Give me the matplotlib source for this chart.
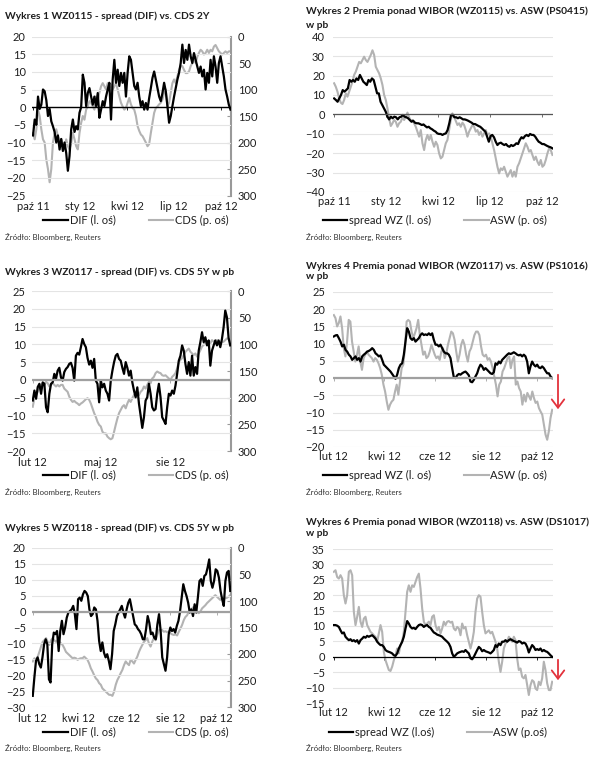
import matplotlib
matplotlib.use("Agg")
import matplotlib.pyplot as plt
import pandas as pd
from matplotlib.patches import FancyArrowPatch

plt.rcParams['font.family'] = ['Lato', 'DejaVu Sans']

W, H = 596, 762

# ---- Wykres 1: WZ0115 DIF (left) vs CDS 2Y (right, inverted) ----
dif1 = [-8, -3.5, -5, 3, -0.5, 0.7, 5, 4.5, 2, -2.5, -0.5, -4, -5.4, -7, -10, -8, -12, -9, -12.4, -10,
        -13, -18, -13.8, -6.3, -3.5, -7, -5.4, -6.3, -1.6, 0, 9.2, 6.9, 0.3, 4, 5.4, 3, 0.7, 3, 0.3, 4,
        -3, -0.7, 1.7, 0.3, 3, 5, 6.9, -3.5, 7.8, 13.4, 6.9, 10.6, 6, 9.7, 6.9, 9.7, 3, 9.7, 14.4, 13.4,
        9.7, 6, 5, 6.9, 3, 0.3, 1.7, -0.7, 1.2, -0.7, 2.6, 5.4, 8.3, 10.1, 7.8, 5.4, 3, 1.7, 4, 6.9,
        4.5, 0.3, -4.4, -2.5, 0.3, 3, 5.4, 7.8, 9.7, 12.5, 17.7, 12.5, 16.2, 13.4, 17.7, 14.4, 12.5, 15.3, 13.4, 11.5,
        9.7, 11.5, 8.7, 10.6, 5, 9.7, 6.9, 13.4, 8.7, 14.4, 11.5, 6.9, 12.5, 14.4, 11.5, 8.7, 5, 3, 0.7, -0.7]
cds1 = [182, 194, 175, 138, 150, 175, 194, 200, 232, 250, 275, 250, 200, 182, 175, 188, 200, 194, 207, 213,
        194, 207, 213, 200, 182, 194, 207, 213, 182, 163, 150, 157, 138, 132, 122, 125, 132, 138, 113, 119,
        106, 94, 88, 94, 100, 88, 97, 91, 100, 94, 88, 100, 113, 125, 132, 138, 135, 125, 116, 128,
        135, 138, 150, 169, 178, 185, 188, 194, 200, 207, 203, 182, 163, 144, 135, 132, 128, 125, 119, 106,
        100, 132, 125, 106, 88, 81, 88, 75, 63, 56, 56, 63, 69, 69, 66, 56, 50, 44, 50, 38,
        31, 25, 28, 34, 31, 25, 31, 25, 28, 19, 16, 22, 28, 31, 34, 31, 28, 31, 28, 28]

# ---- Wykres 2: WZ0115 spread vs ASW PS0415 ----
wz2 = [8.2, 7.4, 6.5, 8.2, 10, 12.5, 11.7, 12.5, 13.4, 17.7, 16.8, 17.7, 16.8, 18.5, 17.7, 20.3, 18.5, 16.8, 16, 15.1,
       17.7, 16.8, 18.5, 17.7, 14.2, 10.8, 10.8, 6.5, 4.8, 3.1, 1.4, -1.2, -2.6, -1.2, -2, -1.2, -1.5, -2.6, -1.5, -1.2,
       -0.3, -1.2, -1.5, -2, -2.9, -3.8, -3.3, -4.3, -4.6, -4.6, -5, -5.5, -5.2, -6, -6.7, -6.4, -7.2, -7.7, -8.4, -8.9,
       -9.8, -10.1, -10.1, -10.6, -10.1, -9.8, -8.1, -4.6, -0.3, -0.3, -1.5, -1.5, -2, -1.5, -2, -2.6, -2.6, -2.9, -3.3, -3.8,
       -4.3, -5, -5, -5.5, -6, -6.4, -7.2, -8.1, -8.9, -11.5, -14.1, -11.2, -10.6, -11.8, -14.1, -15.8, -14.9, -14.6, -15.3, -15.8,
       -15.3, -16.3, -16.7, -15.8, -16.3, -15.8, -14.9, -15.3, -13.2, -11.8, -12.4, -11.2, -10.6, -11.2, -10.1, -10.6, -10.6, -11.5, -12.9, -14.1,
       -14.6, -15.3, -15.3, -15.8, -16.3, -16.7, -17, -17.5]
asw2 = [16, 14.2, 11.7, 8.2, 6, 5.3, 7.4, 10.8, 9.1, 11.7, 14.2, 16.8, 20.3, 22, 24.5, 27, 26.3, 28, 29.7, 28,
        27, 28.8, 30.6, 33, 30.6, 24.5, 22.8, 21.1, 18.5, 15.1, 10, 7.4, 3.1, -2, -6, -4.6, -2.9, -3.8, -6.4, -4.6,
        -3.8, -1.5, -2.9, -1.2, 0.9, -1.5, -3.3, -2.9, -4.6, -6.4, -8.9, -11.5, -8.1, -14.9, -18.4, -13.2, -10.6, -13.2, -10.6, -14.1,
        -16.7, -14.1, -15.8, -20.1, -22.7, -21.8, -18.4, -14.9, -13.2, -8.1, -2.9, 0.5, -1.2, -3.3, -5.5, -4.6, -6.4, -4.3, -5.5, -8.1,
        -11.5, -8.9, -7.2, -5.5, -6.4, -8.9, -8.1, -10.6, -8.9, -11.5, -9.8, -8.1, -10.6, -9.8, -11.5, -14.9, -18.4, -22.7, -27, -30.4,
        -27.8, -28.7, -27, -29.5, -32.1, -30.4, -28.7, -32.1, -29.5, -32.1, -27, -25.2, -22.7, -20.1, -17.5, -14.9, -16.7, -19.2, -18.4, -20.9,
        -23.5, -21.8, -24.4, -26.1, -23.5, -27, -26.1, -23.5, -20.1, -17.5, -18.4, -20.9]

# ---- Wykres 3: WZ0117 DIF vs CDS 5Y ----
dif3 = [-5.8, -3, -5.3, -2, -1.1, -3.9, -0.7, -1.1, -7.7, -9.1, -3.9, -1.1, -0.7, 1.7, 0.3, 2.6, 3.4, 0.7, -0.2, 2.2,
        3.1, 3.6, 4.5, 4.8, 3.4, -0.2, 6.8, 7.6, 7.1, 9.2, 11.5, 10.1, 9.2, 6.2, 4.3, 5.4, 3.4, 5.9, -0.2, -1.1,
        -6.3, -0.2, -2.1, -1.1, -3, -3.9, -5.8, -0.2, 2.6, 5, 6.8, 7.3, 5.9, 5.4, 3.4, 1.7, 5, 3.4, 1.2, 2.6,
        -0.7, -3, -4.9, -2.1, -6.7, -10, -13.5, -10.5, -5.8, -4.9, -1.1, -3.9, -7.7, -8.6, -8.2, -3.9, -1.1, -4.9, -10.5, -11.4,
        -12.4, -7.7, -3.9, -4.4, -3, -3.9, -1.6, 1.7, 5.4, 6.8, 9.7, 8.2, 4.5, 1.7, 5, 1.2, 6.8, 1.2, 3.6, 1.7,
        8.2, 10.6, 13.4, 10.6, 12, 9.7, 11.1, 4, 8.2, 9.7, 11.1, 9.7, 11.1, 9.2, 11.5, 14.8, 19.5, 17.6, 11.8, 9.7]
cds3 = [217, 201, 195, 189, 179, 176, 173, 176, 170, 173, 179, 176, 173, 176, 179, 176, 179, 176, 176, 183,
        186, 189, 198, 204, 208, 206, 209, 211, 214, 211, 209, 206, 203, 201, 204, 211, 220, 229, 236, 245,
        251, 254, 264, 267, 267, 273, 276, 278, 276, 264, 251, 239, 229, 223, 217, 214, 220, 211, 204, 208,
        201, 195, 192, 189, 195, 189, 186, 179, 183, 176, 170, 173, 164, 161, 154, 151, 153, 154, 158, 159,
        158, 161, 164, 167, 161, 158, 154, 145, 133, 129, 126, 120, 114, 111, 108, 114, 117, 120, 117, 123,
        117, 111, 104, 101, 95, 98, 101, 98, 92, 95, 94, 92, 95, 98, 96, 95, 92, 89, 90, 92]

# ---- Wykres 4: WZ0117 spread vs ASW PS1016 ----
wz4 = [12.1, 12.4, 12.5, 11.6, 10.6, 9.2, 9.7, 8.2, 7.7, 6.8, 6.3, 5.3, 5.8, 6.3, 5.3, 5.8, 4.8, 6.3, 6.8, 7.2,
       7.7, 7.9, 8.2, 8.7, 8.2, 7.2, 6.8, 6.3, 6.6, 5.3, 3.9, 3.4, 2.9, 2.4, 1.9, 1.2, 0.5, -0.2, 1, 2.9,
       3.9, 4.3, 6.8, 10.6, 14.5, 13.5, 11.6, 11.1, 11.6, 10.6, 11.1, 11.6, 12.5, 13, 12.5, 12.7, 12.5, 13, 12.5, 13,
       11.1, 9.7, 9.7, 9.2, 9.7, 8.7, 7.7, 7.2, 7.2, 6.8, 5.8, 2.9, 0.2, 0, 0.8, 1.2, 1, 1.4, 1.7, 1.9,
       1.4, 0.8, -1, -1.2, -0.5, 0.5, 1.4, 2.9, 3.9, 3.4, 2.4, 2.9, 2.4, 1.9, 1.4, 1.2, 1.7, 4.3, 3.9, 4.8,
       4.3, 5.3, 5.8, 6.3, 6.8, 7.2, 7, 7.2, 7.5, 7.2, 6.8, 6.6, 6.8, 6.3, 6.8, 6.3, 4.8, 1.4, 3.4, 4.8,
       3.9, 3.4, 3.9, 3.1, 2.9, 3.4, 2.9, 2.1, 1.4, 1.4, 0.5, 0]
asw4 = [18.3, 17.4, 15, 16, 17.9, 14.5, 8.7, 6.3, 10.6, 16.9, 16.4, 10.6, 7.7, 4.8, 6.8, 9.2, 4.8, 2.4, 5.8, 6.8,
        7.7, 6.8, 6.3, 5.8, 4.8, 5.8, 5.3, 4.3, 2.9, 1, -1.9, -3.9, -6.8, -9.2, -7.7, -6.8, -6.3, -3.9, -1.9, -4.8,
        -1, 2.9, 3.9, 8.7, 16.4, 16.9, 16.4, 13.5, 11.6, 13, 14.5, 16.9, 12.5, 9.7, 6.8, 7.7, 5.8, 6.3, 7.7, 9.7,
        8.2, 6.8, 5.8, 6.3, 5.3, 7.7, 8.7, 5.8, 7.2, 9.7, 11.6, 13.5, 13, 11.1, 7.7, 4.8, 6.8, 9.7, 11.1, 9.7,
        6.8, 4.8, 7.7, 8.7, 10.6, 12.5, 13.5, 13.5, 12.5, 9.2, 6.8, 6.3, 6.8, 5.3, 5.8, 4.8, 2.9, 0.5, -1.9, -5.3,
        -1.9, -1, 1.9, 2.9, 4.3, 5.8, 6.3, 2.9, 5.3, 6.3, -1.9, -1, -2.9, -3.9, -7.7, -4.8, -6.8, -4.3, -5.3, -6.3,
        -3.9, -5.8, -7.2, -6.8, -8.7, -9.7, -10.6, -13.5, -16.4, -17.9, -15.4, -11.6, -9.2]

# ---- Wykres 5: WZ0118 DIF vs CDS 5Y ----
dif5 = [-26.5, -20.7, -15.5, -14.4, -16.5, -17.6, -14.4, -10.3, -8.7, -10.3, -21.3, -22.3, -10.3, -6.6, -7.1, -6.1, -12.4, -6.1, -2.9, -7.1,
        -5, -1.9, -0.3, 0.2, 0.7, 1.8, -0.8, -5.5, 3.9, 4.4, 3.4, 5.4, 6.5, 6, 4.9, 0.7, -1.4, -0.8, 1.3, 0.7,
        -2.9, -9.2, -12.4, -9.7, -12.9, -14.4, -13.4, -15.5, -18.1, -13.4, -6.1, -4, -1.4, -0.3, 0.7, 1.8, -0.3, -1.9, 0.7, 2.8,
        3.9, 1.3, -1.4, -4, -4.5, -5.5, -6.1, -7.1, -8.7, -8.7, -5.5, -1.4, -3.5, -7.1, -6.6, -8.2, -8.7, -4, -0.8, -6.1,
        -14.4, -16.5, -18.6, -14.4, -7.1, -5, -6.1, -5.5, -6.6, -4.5, -2.9, 0.2, 4.4, 8.6, 6.5, 4.9, 2.8, -0.3, 0.7, -1.4,
        2.3, -0.3, 4.4, 9.6, 10.2, 8.1, 11.2, 11.7, 13.8, 16.4, 9.6, 7.5, 9.6, 13.3, 12.8, 10.7, 6.5, 3.9, 1.8, 9.6,
        12.3, 12.8, 6.5]
cds5 = [214, 208, 211, 205, 196, 186, 177, 174, 170, 177, 183, 174, 170, 174, 177, 174, 177, 180, 183, 189,
        196, 199, 202, 205, 208, 207, 208, 211, 209, 208, 208, 205, 208, 211, 218, 227, 233, 240, 246, 249,
        255, 258, 265, 268, 271, 274, 277, 277, 279, 271, 258, 249, 243, 236, 230, 221, 214, 218, 221, 211,
        214, 218, 211, 205, 196, 189, 183, 177, 174, 170, 180, 186, 177, 170, 174, 164, 155, 152, 155, 158,
        157, 159, 157, 161, 163, 164, 163, 165, 158, 152, 145, 136, 130, 127, 120, 117, 114, 111, 117, 120,
        123, 120, 114, 111, 108, 104, 101, 98, 95, 92, 89, 92, 95, 98, 95, 92, 95, 94, 92, 89]

# ---- Wykres 6: WZ0118 spread vs ASW DS1017 ----
wz6 = [10.3, 10.3, 10.1, 9.7, 8.6, 7.6, 7.9, 6.5, 5.9, 5.4, 5.7, 5.1, 5.4, 4.9, 5.4, 4.3, 5.4, 5.9, 6.5, 6.2,
       6.8, 6.5, 6.8, 7, 6.5, 5.9, 4.9, 4.3, 3.8, 3.8, 3.2, 2.2, 1.8, 1.6, 1.4, 1.1, 0.5, 0.3, 1.1, 2.7,
       3.8, 4.9, 6.5, 9.2, 11.6, 10.8, 9.7, 9.2, 9.4, 9, 9.7, 10.3, 10.5, 10.3, 9.7, 10.1, 10.3, 9.7, 9.4, 8.6,
       7.9, 7.6, 7.2, 7, 6.8, 6.5, 5.9, 5.4, 4.9, 4.3, 3.2, 1.1, 0, 0.5, 1.1, 1.4, 1.6, 1.8, 1.6, 2.2,
       1.6, 1.1, -0.5, -0.8, 0, 1.1, 2.2, 3.2, 2.7, 1.8, 2.2, 1.8, 1.6, 1.4, 1.1, 1.6, 2.2, 3.8, 3.2, 4.3,
       3.8, 4.9, 4.9, 5.4, 4.9, 5.4, 5.7, 5.4, 5.1, 4.9, 4.6, 5.1, 4.9, 4.3, 4.6, 4.3, 3.2, 1.4, 2.7, 3.8,
       3.2, 2.2, 2.5, 2.2, 2.7, 1.8, 2.2, 1.8, 1.6, 1.1, 0.5, 0]
asw6 = [27.6, 28.1, 25.9, 25.4, 26.5, 25.4, 20, 17.3, 20, 27.6, 28.1, 26.5, 14.6, 10.3, 13, 16.2, 11.4, 9.7, 12.4, 13,
        10.3, 9.2, 8.1, 7.6, 7, 6.5, 4.9, 7.6, 10.3, 8.1, 1.6, -1.1, -2.7, -4.3, -4.6, -3.2, -1.1, 0.5, 2.7, 1.1,
        3.8, 4.9, 8.1, 14.6, 21.1, 23.2, 21.1, 23.2, 22.7, 24.3, 25.9, 27, 22.2, 15.7, 11.4, 10.3, 10.8, 11.4, 10.3, 13,
        13.5, 10.3, 8.6, 9.7, 7.6, 9.2, 11.4, 10.3, 11.4, 11.6, 11.1, 11.4, 9.2, 8.6, 9.7, 9.2, 7, 10.8, 9.2, 9.7,
        7, 4.9, 2.7, 4.9, 8.1, 14.6, 18.9, 20, 19.5, 14.6, 10.3, 7.6, 8.1, 8.6, 7.6, 8.1, 6.5, 4.9, 2.7, -1.6,
        -4.9, -1.6, 2.7, 4.3, 4.9, 6.5, 5.9, 4.9, 6.5, 5.4, -0.5, -4.3, -3.8, -6.5, -7, -5.9, -9.2, -12.4, -9.2, -7.6,
        -8.1, -10.3, -10.8, -8.1, -9.2, -7, -1.6, -4.3, -8.6, -10.8, -10.8, -8.1]

SOURCE = 'Źródło: Bloomberg, Reuters'
BLACK = '#000000'
GREY = '#b3b3b3'
TXT = '#1e1e1e'
TICK_FS = 8
LEG_FS = 8
TITLE_FS = 7.4


def px_rect(x0, y0, x1, y1):
    return [x0 / W, 1 - y1 / H, (x1 - x0) / W, (y1 - y0) / H]


def fxy(x, y):
    return x / W, 1 - y / H


def base_axes(fig, rect, ylim, ystep, xlim, xticks, xlabels, zero_color, zero_lw, ypad, xpad):
    ax = fig.add_axes(px_rect(*rect))
    ax.set_ylim(*ylim)
    ax.set_yticks(range(ylim[0], ylim[1] + 1, ystep))
    ax.set_xlim(pd.Timestamp(xlim[0]), pd.Timestamp(xlim[1]))
    ticks = [pd.Timestamp(t) for t in xticks]
    ax.set_xticks(ticks)
    ax.set_xticklabels(xlabels)
    ax.grid(axis='y', color='#e4e4e4', lw=0.8)
    ax.set_axisbelow(True)
    for s in ax.spines.values():
        s.set_visible(False)
    ax.tick_params(axis='y', length=0, labelsize=TICK_FS, pad=ypad, labelcolor=TXT)
    ax.tick_params(axis='x', length=0, labelsize=TICK_FS, pad=xpad, labelcolor=TXT)
    ax.axhline(0, color=zero_color, lw=zero_lw, zorder=4)
    sec = ax.secondary_xaxis(0, transform=ax.transData)
    sec.set_xticks(ticks)
    sec.tick_params(length=2.5, width=0.6, color=zero_color, labelbottom=False)
    sec.spines['bottom'].set_visible(False)
    return ax


def add_legend(fig, ax, handles, labels, cx, cy):
    ax.legend(handles, labels, loc='center', bbox_to_anchor=fxy(cx, cy),
              bbox_transform=fig.transFigure, ncol=2, frameon=False, fontsize=LEG_FS,
              handlelength=2.2, handletextpad=0.15, columnspacing=3.0,
              labelcolor=TXT)


def dual_panel(fig, rect, dif, cds, start, end, xlim, ylim, xticks, xlabels,
               zero_color, zero_lw, legend_xy, labels=('DIF (l. oś)', 'CDS (p. oś)')):
    ax = base_axes(fig, rect, ylim, 5, xlim, xticks, xlabels, zero_color, zero_lw, 4.5, 4.0)
    ax2 = ax.twinx()
    ax2.set_ylim(300, 0)
    ax2.set_yticks(range(0, 301, 50))
    for s in ax2.spines.values():
        s.set_visible(False)
    ax2.spines['right'].set_visible(True)
    ax2.spines['right'].set_color('#999999')
    ax2.spines['right'].set_linewidth(1.5)
    ax2.tick_params(axis='y', direction='in', length=3, color='#999999', labelsize=TICK_FS,
                    pad=5, labelcolor=TXT)
    ax.set_zorder(ax2.get_zorder() + 1)
    ax.patch.set_visible(False)
    g, = ax2.plot(pd.date_range(start, end, periods=len(cds)), cds, color=GREY, lw=1.5)
    b, = ax.plot(pd.date_range(start, end, periods=len(dif)), dif, color=BLACK, lw=1.6, zorder=3)
    add_legend(fig, ax, [b, g], list(labels), *legend_xy)
    return ax


def single_panel(fig, rect, wz, asw, start, end, xlim, ylim, ystep, xticks, xlabels,
                 zero_color, zero_lw, legend_xy, labels=('spread WZ (l. oś)', 'ASW (p. oś)')):
    ax = base_axes(fig, rect, ylim, ystep, xlim, xticks, xlabels, zero_color, zero_lw, 5.8, 3.0)
    g, = ax.plot(pd.date_range(start, end, periods=len(asw)), asw, color=GREY, lw=1.5, zorder=2)
    b, = ax.plot(pd.date_range(start, end, periods=len(wz)), wz, color=BLACK, lw=1.6, zorder=3)
    add_legend(fig, ax, [b, g], list(labels), *legend_xy)
    return ax


def title(fig, x, y, text, size=TITLE_FS):
    fig.text(*fxy(x, y), text, fontsize=size, fontweight='bold', color=TXT, va='center', ha='left')


def source(fig, x, y):
    fig.text(*fxy(x, y), SOURCE, fontsize=5.7, color='#333333', va='center', ha='left')


def red_arrow(fig, x, y0, y1):
    arr = FancyArrowPatch(fxy(x, y0), fxy(x, y1), transform=fig.transFigure,
                          arrowstyle='->,head_length=0.6,head_width=0.45',
                          mutation_scale=10, color='#e3323c', lw=1.3)
    fig.add_artist(arr)


fig = plt.figure(figsize=(W / 100, H / 100), dpi=100)
fig.patch.set_facecolor('white')

q_ticks = ['2011-10-01', '2012-01-01', '2012-04-01', '2012-07-01', '2012-10-01']
q_labels = ['paź 11', 'sty 12', 'kwi 12', 'lip 12', 'paź 12']
m2_ticks = ['2012-02-01', '2012-04-01', '2012-06-01', '2012-08-01', '2012-10-01']
m2_labels = ['lut 12', 'kwi 12', 'cze 12', 'sie 12', 'paź 12']

# Panel 1
title(fig, 5, 16, 'Wykres 1 WZ0115 - spread (DIF) vs. CDS 2Y')
dual_panel(fig, (32, 36.5, 231, 195.5), dif1, cds1, '2011-10-01', '2012-10-19',
           ('2011-09-29', '2012-10-20'), (-25, 20), q_ticks, q_labels, BLACK, 1.0, (136, 220))
source(fig, 5, 237)

# Panel 2
title(fig, 306, 11, 'Wykres 2 Premia ponad WIBOR (WZ0115) vs. ASW (PS0415)')
title(fig, 306, 25, 'w pb')
single_panel(fig, (333, 36.7, 553, 192), wz2, asw2, '2011-10-01', '2012-10-19',
             ('2011-09-29', '2012-10-20'), (-40, 40), 10, q_ticks, q_labels, '#555555', 0.9, (435, 220))
source(fig, 306, 237)

# Panel 3
title(fig, 5, 272, 'Wykres 3 WZ0117 - spread (DIF) vs. CDS 5Y w pb')
dual_panel(fig, (32, 291, 231, 451), dif3, cds3, '2012-02-01', '2012-10-19',
           ('2012-01-31', '2012-10-20'), (-20, 25), ['2012-02-01', '2012-05-01', '2012-08-01'],
           ['lut 12', 'maj 12', 'sie 12'], '#a0a0a0', 1.6, (136, 475))
source(fig, 5, 492)

# Panel 4
title(fig, 306, 266, 'Wykres 4 Premia ponad WIBOR (WZ0117) vs. ASW (PS1016)')
title(fig, 306, 277, 'w pb')
single_panel(fig, (333, 292, 553, 447), wz4, asw4, '2012-02-01', '2012-10-19',
             ('2012-01-31', '2012-10-20'), (-20, 25), 5, m2_ticks, m2_labels, '#a0a0a0', 1.6, (435, 475))
red_arrow(fig, 558, 372, 412)
source(fig, 306, 492)

# Panel 5
title(fig, 5, 528, 'Wykres 5 WZ0118 - spread (DIF) vs. CDS 5Y w pb')
dual_panel(fig, (32, 548, 231, 707), dif5, cds5, '2012-02-01', '2012-10-19',
           ('2012-01-31', '2012-10-20'), (-30, 20), m2_ticks, m2_labels, '#a0a0a0', 1.6, (136, 732))
source(fig, 5, 748)

# Panel 6
title(fig, 306, 522, 'Wykres 6 Premia ponad WIBOR (WZ0118) vs. ASW (DS1017)')
title(fig, 306, 534, 'w pb')
single_panel(fig, (333, 549, 553, 703), wz6, asw6, '2012-02-01', '2012-10-19',
             ('2012-01-31', '2012-10-20'), (-15, 35), 5, m2_ticks, m2_labels, BLACK, 0.9, (438, 732),
             labels=('spread WZ (l.oś)', 'ASW (p.oś)'))
red_arrow(fig, 558, 657, 683)
source(fig, 306, 748)

fig.savefig('out.png', dpi=100)
